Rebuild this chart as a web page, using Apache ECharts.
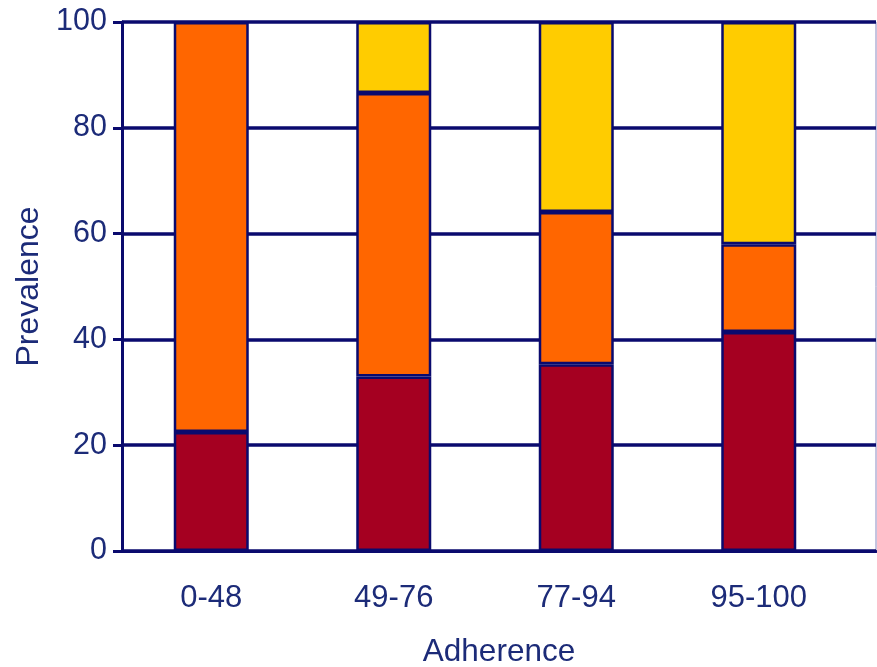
<!DOCTYPE html>
<html><head><meta charset="utf-8">
<script src="https://cdn.jsdelivr.net/npm/echarts@6/dist/echarts.min.js"></script>
<style>html,body{margin:0;padding:0;background:#fff}#c{width:877px;height:667px}</style>
</head><body><div id="c"></div>
<script>
var categories = ['0-48', '49-76', '77-94', '95-100'];
var lowPart = [22.5, 33, 35.3, 41.4];
var midPart = [77.5, 53.6, 28.8, 16.6];
var highPart = [null, 13.4, 35.9, 42];
var yTicks = [0, 20, 40, 60, 80, 100];

var navy = '#0a0a6e';
var txt = '#1c2b78';
var font = 'Liberation Sans, Arial, sans-serif';
var chart = echarts.init(document.getElementById('c'));
function barSeries(name, data, color) {
  return {
    name: name, type: 'bar', stack: 'all', xAxisIndex: 1, yAxisIndex: 1,
    data: data, barWidth: 75,
    itemStyle: { color: color, borderColor: navy, borderWidth: 2.5 }
  };
}
chart.setOption({
  animation: false,
  grid: [
    { left: 122, right: 1, top: 22, bottom: 116, outerBoundsMode: 'none', containLabel: false,
      show: true, borderColor: '#8a8ac0', borderWidth: 1, backgroundColor: 'transparent' },
    { left: 120, right: 27, top: 22, bottom: 116, outerBoundsMode: 'none', containLabel: false }
  ],
  xAxis: [
    { type: 'category', gridIndex: 0, data: categories.map(function(){return '';}),
      axisLine: { lineStyle: { color: navy, width: 3 } },
      axisTick: { length: 13, lineStyle: { color: navy, width: 3.5 } },
      axisLabel: { show: false },
      name: 'Adherence', nameLocation: 'middle', nameGap: 85,
      nameTextStyle: { color: txt, fontSize: 31.5, fontFamily: font } },
    { type: 'category', gridIndex: 1, data: categories,
      axisLine: { show: false }, axisTick: { show: false },
      axisLabel: { color: txt, fontSize: 31, fontFamily: font, margin: 32 } }
  ],
  yAxis: [
    { type: 'value', gridIndex: 0, min: 0, max: 100, interval: 20,
      axisLine: { show: true, lineStyle: { color: navy, width: 3 } },
      axisTick: { show: true, length: 9, lineStyle: { color: navy, width: 3 } },
      splitLine: { lineStyle: { color: navy, width: 3.5 } },
      axisLabel: { color: txt, fontSize: 30.5, fontFamily: font, margin: 15,
        formatter: function (v) { return yTicks.indexOf(v) >= 0 ? String(v) : ''; } },
      name: 'Prevalence', nameLocation: 'middle', nameGap: 71, nameRotate: 90,
      nameTextStyle: { color: txt, fontSize: 32, fontFamily: font } },
    { type: 'value', gridIndex: 1, min: 0, max: 100, interval: 20,
      axisLine: { show: false }, axisTick: { show: false },
      splitLine: { show: false }, axisLabel: { show: false } }
  ],
  series: [
    barSeries('Low', lowPart, '#a50021'),
    barSeries('Mid', midPart, '#ff6600'),
    barSeries('High', highPart, '#ffcc00')
  ]
});
</script></body></html>
